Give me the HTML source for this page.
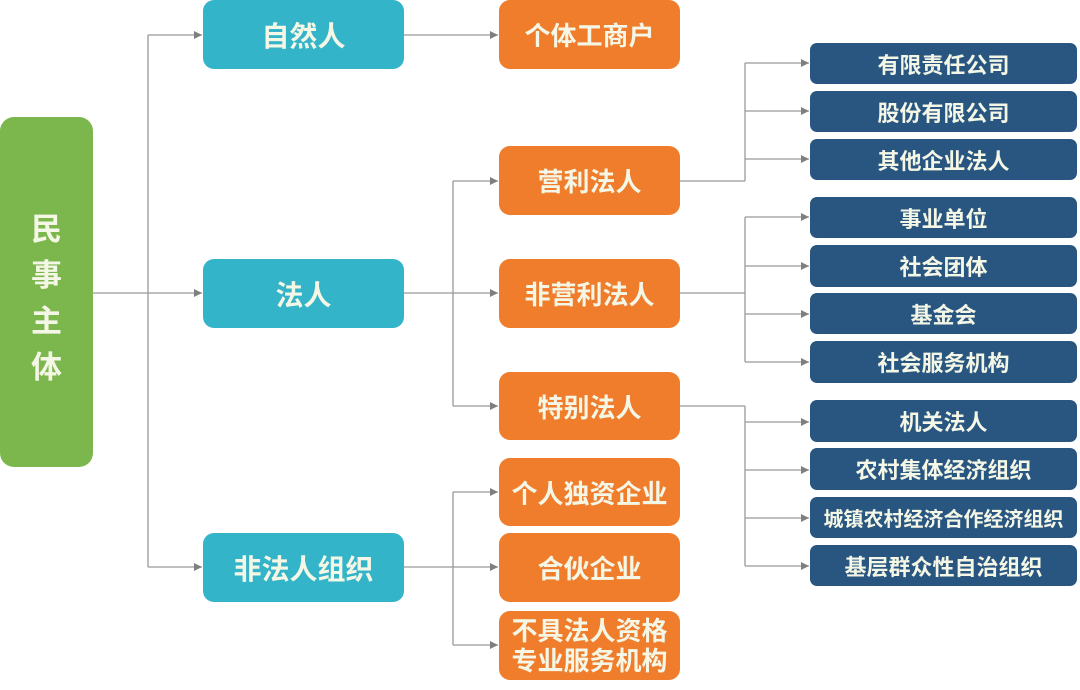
<!DOCTYPE html>
<html><head><meta charset="utf-8">
<style>
html,body{margin:0;padding:0;background:#fff;}
body{width:1080px;height:690px;position:relative;overflow:hidden;font-family:"Liberation Sans","Noto Sans CJK SC",sans-serif;}
.b{position:absolute;display:flex;align-items:center;justify-content:center;color:#f4f6e6;font-weight:700;text-align:center;box-sizing:border-box;}
.g{background:#7cb74d;border-radius:14px;}
.t{background:#33b4c9;border-radius:11px;font-size:28px;left:203px;width:201px;height:69px;}
.o{background:#ef7d2c;border-radius:11px;font-size:26px;left:499px;width:181px;height:68px;}
.d{background:#285681;border-radius:7px;font-size:22px;left:810px;width:267px;height:41px;}
svg{position:absolute;left:0;top:0;}
</style></head><body>
<svg width="1080" height="690" viewBox="0 0 1080 690">
<defs><marker id="a" viewBox="0 0 10 10" refX="10" refY="5" markerWidth="8" markerHeight="8" markerUnits="userSpaceOnUse" orient="auto"><path d="M0,0 L10,5 L0,10 z" fill="#7f7f7f"/></marker></defs>
<g stroke="#999" stroke-width="1.3" fill="none">
<path d="M93,293 H148"/>
<path d="M148,35 V567"/>
<path d="M148,35 H202" marker-end="url(#a)"/>
<path d="M148,293 H202" marker-end="url(#a)"/>
<path d="M148,567 H202" marker-end="url(#a)"/>
<path d="M404,35 H498" marker-end="url(#a)"/>
<path d="M404,293 H453"/>
<path d="M453,181 V406"/>
<path d="M453,181 H498" marker-end="url(#a)"/>
<path d="M453,293 H498" marker-end="url(#a)"/>
<path d="M453,406 H498" marker-end="url(#a)"/>
<path d="M404,567 H453"/>
<path d="M453,492 V645"/>
<path d="M453,492 H498" marker-end="url(#a)"/>
<path d="M453,567 H498" marker-end="url(#a)"/>
<path d="M453,645 H498" marker-end="url(#a)"/>
<path d="M680,181 H745"/>
<path d="M745,63 V181"/>
<path d="M745,63 H809" marker-end="url(#a)"/>
<path d="M745,111 H809" marker-end="url(#a)"/>
<path d="M745,159 H809" marker-end="url(#a)"/>
<path d="M680,293 H745"/>
<path d="M745,217 V362"/>
<path d="M745,217 H809" marker-end="url(#a)"/>
<path d="M745,266 H809" marker-end="url(#a)"/>
<path d="M745,314 H809" marker-end="url(#a)"/>
<path d="M745,362 H809" marker-end="url(#a)"/>
<path d="M680,406 H745"/>
<path d="M745,406 V566"/>
<path d="M745,422 H809" marker-end="url(#a)"/>
<path d="M745,470 H809" marker-end="url(#a)"/>
<path d="M745,518 H809" marker-end="url(#a)"/>
<path d="M745,566 H809" marker-end="url(#a)"/>
</g>
</svg>

<div class="b g" style="left:0;top:117px;width:93px;height:350px;font-size:31px;line-height:46px;padding-top:14px;">民<br>事<br>主<br>体</div>

<div class="b t" style="top:0;">自然人</div>
<div class="b t" style="top:259px;">法人</div>
<div class="b t" style="top:533px;">非法人组织</div>

<div class="b o" style="top:0;height:69px;">个体工商户</div>
<div class="b o" style="top:146px;height:69px;">营利法人</div>
<div class="b o" style="top:259px;height:69px;">非营利法人</div>
<div class="b o" style="top:372px;">特别法人</div>
<div class="b o" style="top:458px;">个人独资企业</div>
<div class="b o" style="top:533px;height:69px;">合伙企业</div>
<div class="b o" style="top:611px;height:69px;line-height:30px;">不具法人资格<br>专业服务机构</div>

<div class="b d" style="top:43px;">有限责任公司</div>
<div class="b d" style="top:91px;">股份有限公司</div>
<div class="b d" style="top:139px;">其他企业法人</div>
<div class="b d" style="top:197px;">事业单位</div>
<div class="b d" style="top:245px;height:42px;">社会团体</div>
<div class="b d" style="top:293px;">基金会</div>
<div class="b d" style="top:341px;height:42px;">社会服务机构</div>
<div class="b d" style="top:400px;height:42px;">机关法人</div>
<div class="b d" style="top:448px;height:42px;">农村集体经济组织</div>
<div class="b d" style="top:497px;font-size:20px;">城镇农村经济合作经济组织</div>
<div class="b d" style="top:545px;">基层群众性自治组织</div>
</body></html>
